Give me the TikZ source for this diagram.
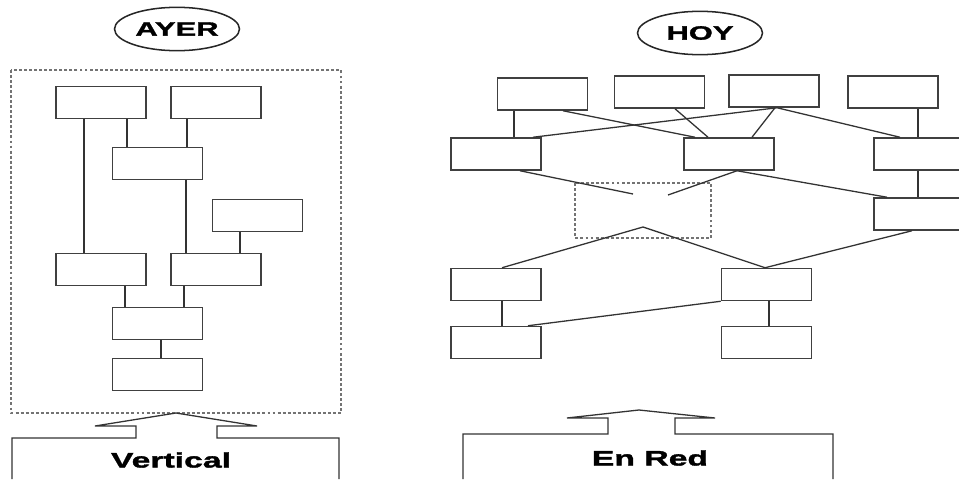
\documentclass[tikz,border=0pt]{standalone}
\usepackage{fontspec}
\setmainfont{Liberation Sans}[FakeStretch=1.6,BoldFeatures={FakeBold=1.6}]
\usetikzlibrary{
  positioning,
  shapes.geometric
}

\begin{document}
\begin{tikzpicture}[x=0.03cm,y=-0.03cm,
  caja/.style={draw=black!75,line width=1.3pt,minimum width=2.7cm,minimum height=0.96cm,inner sep=0pt},
  enlace/.style={draw=black!80,line width=1.1pt},
  marco/.style={draw=black!55,line width=1pt,dash pattern=on 2.5pt off 1.8pt},
  titulo/.style={ellipse,draw=black!85,line width=1.3pt,minimum width=3.75cm,minimum height=1.3cm,inner sep=0pt,font=\bfseries\fontsize{16.5}{18}\selectfont},
  rotulo/.style={font=\bfseries\fontsize{18}{20}\selectfont}]
  \useasboundingbox (0,0) rectangle (959,479);
  % títulos
  \node[titulo] (ayer) at (177,29) {AYER};
  \node[titulo] (hoy) at (700,33) {HOY};
  % ayer
  \draw[marco] (11,70) rectangle (341,413);
  \node[caja] (a1) at (101,102.5) {};
  \node[caja] (a2) at (216,102.5) {};
  \node[caja] (a3) at (157.5,163.5) {};
  \node[caja] (a4) at (257.5,215.5) {};
  \node[caja] (a5) at (101,269.5) {};
  \node[caja] (a6) at (216,269.5) {};
  \node[caja] (a7) at (157.5,323.5) {};
  \node[caja] (a8) at (157.5,374.5) {};
  \draw[enlace] (a1.south -| 84,0) -- (a5.north -| 84,0);
  \draw[enlace] (a1.south -| 127,0) -- (a3.north -| 127,0);
  \draw[enlace] (a2.south -| 187,0) -- (a3.north -| 187,0);
  \draw[enlace] (a3.south -| 186,0) -- (a6.north -| 186,0);
  \draw[enlace] (a4.south -| 240,0) -- (a6.north -| 240,0);
  \draw[enlace] (a5.south -| 125,0) -- (a7.north -| 125,0);
  \draw[enlace] (a6.south -| 184,0) -- (a7.north -| 184,0);
  \draw[enlace] (a7.south -| 161,0) -- (a8.north -| 161,0);
  % flecha y base
  \draw[enlace] (12,479) -- (12,438) -- (136,438) -- (136,426) -- (95,426)
    -- (176,413) -- (257,426) -- (217,426) -- (217,438) -- (339,438) -- (339,479);
  \node[rotulo] (vert) at (171,460) {Vertical};
  % hoy
  \draw[marco] (575,183) rectangle (711,238);
  \node[caja] (h1) at (542.5,94) {};
  \node[caja] (h2) at (659.5,92) {};
  \node[caja] (h3) at (774,91) {};
  \node[caja] (h4) at (893,92) {};
  \node[caja] (h5) at (496,154) {};
  \node[caja] (h6) at (729,154) {};
  \node[caja] (h7) at (919,154) {};
  \node[caja] (h8) at (919,214) {};
  \node[caja] (h9) at (496,284.5) {};
  \node[caja] (h10) at (766.5,284.5) {};
  \node[caja] (h11) at (496,342.5) {};
  \node[caja] (h12) at (766.5,342.5) {};
  \coordinate (f1) at (633,194);
  \coordinate (f2) at (668,195);
  \coordinate (nube) at (643,227);
  \draw[enlace] (h1.south -| 514,0) -- (h5.north -| 514,0);
  \draw[enlace] (h1.south -| 563,0) -- (h6.north -| 695,0);
  \draw[enlace] (h2.south -| 675,0) -- (h6.north -| 708,0);
  \draw[enlace] (h3.south -| 775,0) -- (h6.north -| 752,0);
  \draw[enlace] (h3.south -| 777,0) -- (h5.north -| 533,0);
  \draw[enlace] (h3.south -| 777,0) -- (h7.north -| 900,0);
  \draw[enlace] (h4.south -| 918,0) -- (h7.north -| 918,0);
  \draw[enlace] (h7.south -| 918,0) -- (h8.north -| 918,0);
  \draw[enlace] (h5.south -| 520,0) -- (f1);
  \draw[enlace] (h6.south -| 737,0) -- (f2);
  \draw[enlace] (h6.south -| 737,0) -- (h8.north -| 887,0);
  \draw[enlace] (h9.north -| 502,0) -- (nube) -- (h10.north -| 765,0);
  \draw[enlace] (h8.south -| 912,0) -- (h10.north -| 765,0);
  \draw[enlace] (h9.south -| 502,0) -- (h11.north -| 502,0);
  \draw[enlace] (h10.south west) -- (h11.north -| 528,0);
  \draw[enlace] (h10.south -| 769,0) -- (h12.north -| 769,0);
  % flecha y base
  \draw[enlace] (463,479) -- (463,434) -- (608,434) -- (608,418) -- (567,418)
    -- (639,410) -- (715,418) -- (675,418) -- (675,434) -- (833,434) -- (833,479);
  \node[rotulo] (red) at (650,458) {En Red};
\end{tikzpicture}
\end{document}
